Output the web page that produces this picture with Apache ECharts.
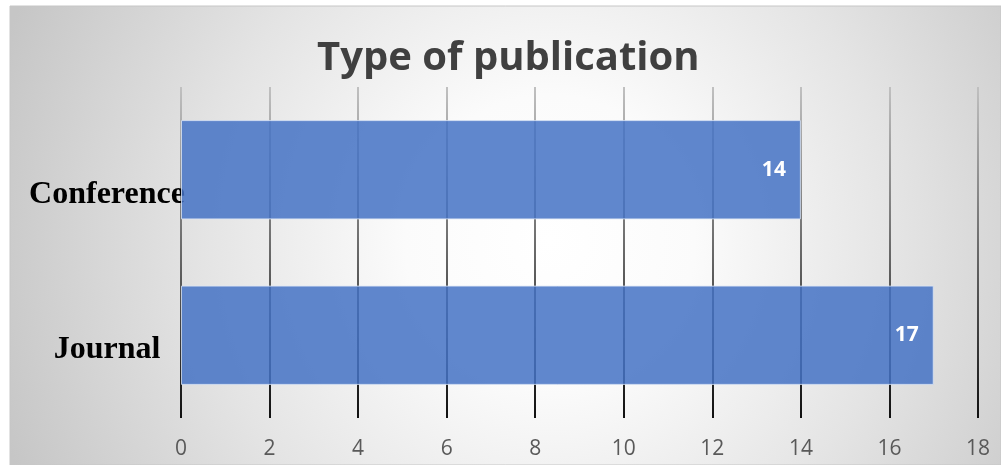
<!DOCTYPE html>
<html>
<head>
<meta charset="utf-8">
<script src="https://cdn.jsdelivr.net/npm/echarts@6/dist/echarts.min.js"></script>
<style>
  html, body { margin: 0; padding: 0; background: #ffffff; }
  #chart { width: 1001px; height: 465px; }
</style>
</head>
<body>
<div id="chart"></div>
<script>
// Publication counts by type
const categories = ['Conference', 'Journal'];
const counts = [14, 17];
const xTicks = { min: 0, max: 18, step: 2 };
const titleText = 'Type of publication';

const chart = echarts.init(document.getElementById('chart'), null, { renderer: 'canvas' });

// per-category vertical nudge of the category labels
const labelPad = { Conference: 50, Journal: 28 };

const option = {
  backgroundColor: '#ffffff',
  animation: false,
  graphic: [{
    type: 'rect',
    z: -10,
    silent: true,
    shape: { x: 10, y: 6, width: 991, height: 459 },
    style: {
      fill: {
        type: 'radial', global: true, x: 550, y: 240, r: 580,
        colorStops: [
          { offset: 0, color: '#ffffff' },
          { offset: 0.25, color: '#fbfbfb' },
          { offset: 0.6, color: '#e4e4e4' },
          { offset: 1, color: '#c6c6c6' }
        ]
      },
      stroke: '#c6c6c6',
      lineWidth: 1
    }
  }],
  title: {
    text: titleText,
    left: 317,
    top: 39,
    padding: 0,
    textStyle: {
      fontFamily: 'Open Sans',
      fontWeight: 'bold',
      fontSize: 40,
      color: '#404040'
    }
  },
  grid: { left: 181, right: 23, top: 87, bottom: 47 },
  xAxis: {
    type: 'value',
    min: xTicks.min,
    max: xTicks.max,
    interval: xTicks.step,
    axisLine: { show: false },
    axisTick: { show: false },
    axisLabel: {
      margin: 21,
      verticalAlign: 'top',
      fontFamily: 'Open Sans',
      fontSize: 21,
      color: '#595959'
    },
    splitLine: {
      show: true,
      lineStyle: {
        width: 2,
        color: {
          type: 'linear', global: true, x: 0, y: 87, x2: 0, y2: 418,
          colorStops: [
            { offset: 0, color: '#c0c0c0' },
            { offset: 1, color: '#111111' }
          ]
        }
      }
    }
  },
  yAxis: {
    type: 'category',
    inverse: true,
    data: categories,
    axisLine: { show: false },
    axisTick: { show: false },
    axisLabel: {
      margin: 74,
      align: 'center',
      formatter: function (v) { return '{' + (v === 'Conference' ? 'c' : 'j') + '|' + v + '}'; },
      rich: {
        c: { fontFamily: 'Liberation Serif', fontWeight: 'bold', fontSize: 32, color: '#000000', padding: [labelPad.Conference, 0, 0, 0] },
        j: { fontFamily: 'Liberation Serif', fontWeight: 'bold', fontSize: 32, color: '#000000', padding: [labelPad.Journal, 0, 0, 0] }
      }
    }
  },
  series: [{
    type: 'bar',
    data: counts,
    barCategoryGap: '40%',
    itemStyle: {
      color: 'rgba(68,114,196,0.85)',
      borderColor: 'rgba(220,230,245,0.8)',
      borderWidth: 1
    },
    label: {
      show: true,
      position: 'insideRight',
      distance: 15,
      fontFamily: 'Open Sans',
      fontWeight: 'bold',
      fontSize: 21,
      color: '#ffffff'
    }
  }]
};

chart.setOption(option);
</script>
</body>
</html>
